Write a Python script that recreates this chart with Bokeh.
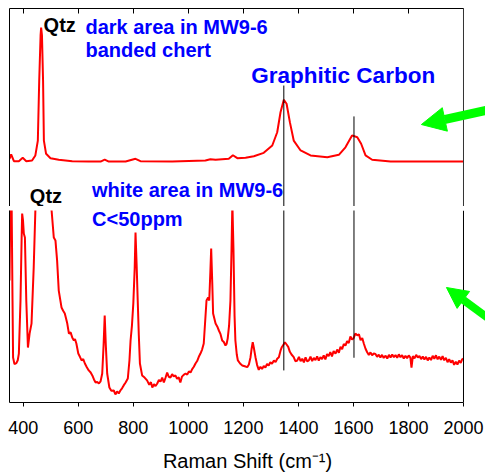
from bokeh.plotting import figure
from bokeh.models import Range1d, Label, Arrow, NormalHead, FixedTicker, Span
from bokeh.layouts import column
from bokeh.embed import file_html
from bokeh.resources import INLINE

# ---------------- data ----------------
# Upper spectrum: dark area in MW9-6 banded chert (intensity, arbitrary units)
shift_dark = [350, 356, 366, 384, 398, 411, 432, 444, 453, 458, 463, 465, 468, 472, 475,
              483, 499, 529, 578, 638, 681, 696, 711, 772, 808, 826, 941, 1062, 1080, 1099,
              1147, 1162, 1178, 1208, 1238, 1274, 1305, 1323, 1335, 1347, 1357, 1369, 1383,
              1408, 1444, 1505, 1547, 1571, 1595, 1614, 1628, 1644, 1668, 1735, 1856, 2000]
int_dark = [24.1, 26.3, 22.9, 22.9, 24.6, 22.9, 23.2, 25.8, 33.3, 63.6, 86.4, 90.4, 86.4, 63.6, 33.3,
            26.6, 24.4, 23.6, 22.9, 22.7, 22.7, 23.7, 22.7, 22.7, 24.1, 22.9, 22.7, 23.2, 23.9, 23.6,
            24.1, 25.9, 24.4, 24.6, 25.4, 27.1, 30.8, 37.5, 47.6, 53.9, 51.9, 42.6, 33.3,
            28.3, 25.8, 24.9, 26.1, 29.9, 35.9, 35.0, 31.7, 25.8, 23.6, 22.7, 22.7, 22.7]

# Lower spectrum: white area in MW9-6 (intensity, arbitrary units; peaks run off scale)
shift_white = [350, 352, 356, 358, 361, 363, 368, 375, 380, 384, 390, 394, 396, 399, 402, 406,
               411, 417, 423, 430, 438, 444, 464, 503, 511, 517, 523, 529, 539, 545, 551, 556,
               560, 566, 572, 578, 584, 588, 593, 600, 606, 612, 618, 624, 631, 638, 645, 651,
               657, 663, 669, 675, 681, 687, 692, 696, 700, 705, 713, 720, 729, 735, 741, 747,
               753, 759, 765, 772, 780, 786, 790, 795, 800, 805, 808, 812, 816, 820, 824, 832,
               841, 850, 858, 864, 869, 875, 881, 887, 893, 899, 905, 911, 917, 923, 929, 935,
               941, 947, 953, 959, 965, 971, 977, 983, 990, 996, 1002, 1008, 1014, 1020, 1026,
               1032, 1038, 1044, 1050, 1056, 1066, 1072, 1076, 1080, 1083, 1087, 1090, 1099,
               1105, 1111, 1117, 1123, 1129, 1135, 1139, 1143, 1148, 1153, 1157, 1160, 1164,
               1168, 1171, 1176, 1180, 1188, 1196, 1205, 1214, 1220, 1226, 1230, 1234, 1238,
               1244, 1250, 1256, 1262, 1268, 1274, 1280, 1286, 1292, 1298, 1304, 1311, 1317,
               1323, 1329, 1335, 1339, 1345, 1351, 1357, 1363, 1369, 1375, 1383, 1389, 1396,
               1402, 1408, 1414, 1420, 1426, 1432, 1438, 1444, 1450, 1456, 1462, 1468, 1474,
               1480, 1486, 1492, 1498, 1504, 1510, 1516, 1522, 1528, 1535, 1541, 1547, 1553,
               1559, 1565, 1571, 1577, 1583, 1589, 1595, 1601, 1607, 1614, 1620, 1626, 1632,
               1638, 1644, 1650, 1656, 1662, 1668, 1674, 1680, 1686, 1692, 1698, 1704, 1710,
               1717, 1723, 1729, 1735, 1741, 1747, 1753, 1759, 1765, 1771, 1777, 1783, 1789,
               1795, 1801, 1807, 1811, 1816, 1822, 1828, 1834, 1840, 1846, 1852, 1858, 1864,
               1870, 1876, 1882, 1888, 1894, 1900, 1906, 1912, 1918, 1924, 1930, 1936, 1942,
               1948, 1954, 1960, 1966, 1972, 1978, 1984, 1990, 1995, 2000]
int_white = [63.5, 89.6, 150, 100, 53, 23.4, 20.0, 20.5, 22.0, 25.5, 53.1, 85, 98.4, 95, 88.0, 85.9,
             53.1, 28.6, 35.9, 41.1, 70.3, 100, 320, 100, 85.9, 84.4, 74.0, 58.3, 49.5, 47.8, 46.4, 43.5,
             41.1, 35.9, 36.5, 33.9, 32.3, 33.0, 30.7, 25.5, 23.8, 21.9, 22.6, 20.3, 18.4, 16.7, 15.6, 14.1,
             12.0, 10.4, 10.7, 9.9, 11.0, 15.1, 30, 45.3, 30, 15.1, 7.8, 6.1, 6.25, 4.2, 5.8, 4.7,
             6.25, 7.4, 8.9, 10.4, 12.5, 22, 32.3, 40, 51.6, 70, 88.5, 72, 53.1, 35, 20.3, 14.1,
             13.0, 11.5, 9.2, 10.6, 7.8, 9.5, 8.6, 9.9, 11.8, 10.9, 13.0, 10.4, 12.9, 15.6, 13.4, 13.0,
             14.8, 13.6, 14.1, 12.3, 13.1, 10.4, 13.5, 14.4, 15.1, 14.5, 16.2, 15.6, 17.4, 18.6, 20.3,
             21.6, 23.8, 25.5, 27.6, 30.7, 53.1, 54.7, 53.1, 68, 80.2, 62, 46.4, 41.1,
             39.6, 37.5, 35.6, 32.3, 31.5, 29.7, 30.5, 33.3, 40, 53.1, 80, 104, 80,
             45, 32.3, 25, 21.9, 20.3, 19.3, 18.9, 18.4, 19.8, 23.6, 28, 31.4, 28.5,
             23.6, 19.5, 17.0, 18.6, 17.5, 19.0, 18.2, 20.1, 19.3, 21.0, 20.2, 21.9, 21.0,
             22.8, 23.6, 27.0, 28.6, 30.0, 31.4, 30.2, 29.0, 26.4, 25.0, 23.6, 21.5, 21.9,
             23.8, 21.5, 22.8, 20.9, 23.5, 21.4, 21.9, 23.9, 21.6, 23.2, 22.1, 24.0, 21.8,
             23.6, 22.6, 24.5, 22.4, 25.2, 24.1, 26.3, 24.0, 26.8, 25.4, 27.6, 25.9, 29.0,
             27.8, 30.5, 29.6, 32.0, 31.0, 34.4, 32.8, 33.6, 35.9, 35.0, 35.5, 32.4, 33.6,
             30.6, 28.0, 26.2, 24.8, 26.1, 24.6, 25.5, 25.3, 23.8, 24.9, 23.4, 24.8, 23.2,
             24.4, 22.9, 24.8, 23.5, 25.0, 23.6, 24.7, 23.3, 25.1, 23.6, 24.6, 22.9, 24.3,
             23.1, 24.5, 23.4, 18.2, 24.2, 23.0, 24.8, 23.4, 24.2, 22.6, 24.0, 22.4, 23.8,
             21.9, 23.4, 22.1, 24.3, 22.8, 24.6, 22.5, 23.9, 22.2, 24.1, 22.0, 23.3, 21.0,
             22.6, 20.8, 21.9, 19.6, 21.2, 19.8, 21.8, 20.6, 22.4, 22.8]

# Vertical markers for the graphitic carbon D and G bands
band_shift = [1347, 1602]
band_top_upper = [61.1, 45.5]      # where the marker starts in the upper panel
band_bottom_lower = [16.7, 23.3]   # where the marker ends in the lower panel

x_ticks = [400, 600, 800, 1000, 1200, 1400, 1600, 1800, 2000]
x_min, x_max = 350, 2000

RED = "#ff0000"
BLUE = "#0000ff"
GREEN = "#00ff00"
FONT = "Liberation Sans"

# the visible range goes a little past 2000 so the pointer arrows can reach the page edge
xr = Range1d(x_min, 2080)

# ---------------- upper panel ----------------
p1 = figure(width=485, height=206, x_range=xr, y_range=Range1d(0, 100),
            x_axis_location="above", output_backend="svg", toolbar_location=None,
            min_border_left=9, min_border_right=0, min_border_top=8, min_border_bottom=0)
p1.outline_line_color = None
p1.grid.visible = False
p1.xaxis.bounds = (x_min, x_max)
p1.xaxis.ticker = FixedTicker(ticks=x_ticks)
p1.xaxis.major_label_text_font_size = "0px"
p1.xaxis.major_label_standoff = 0
p1.xaxis.major_tick_in = 5
p1.xaxis.major_tick_out = 0
p1.xaxis.minor_tick_line_color = None
p1.xaxis.axis_line_color = "black"
p1.xaxis.major_tick_line_color = "black"
p1.yaxis.ticker = FixedTicker(ticks=[])
p1.yaxis.major_label_text_font_size = "0px"
p1.yaxis.axis_line_color = "black"
p1.add_layout(Span(location=x_max, dimension="height", line_color="#333333", line_width=1))

p1.line(shift_dark, int_dark, line_color=RED, line_width=2)
p1.segment(x0=band_shift, y0=band_top_upper, x1=band_shift, y1=[-10, -10],
           line_color="black", line_width=1)

for txt, x, y, size, col in [
    ("Qtz", 474, 91.9, "20px", "black"),
    ("dark area in MW9-6", 626, 90.9, "20px", BLUE),
    ("banded chert", 626, 78.8, "20px", BLUE),
    ("Graphitic Carbon", 1229, 66.3, "22.5px", BLUE),
    ("white area in MW9-6", 650, 8.3, "20px", BLUE),
    ("Qtz", 424, 5.2, "20px", "black"),
]:
    p1.add_layout(Label(x=x, y=y, text=txt, text_font=FONT, text_font_size=size,
                        text_font_style="bold", text_color=col, text_baseline="alphabetic"))

p1.add_layout(Arrow(x_start=2105, y_start=49.2, x_end=1847, y_end=41.4,
                    line_color=GREEN, line_width=9,
                    end=NormalHead(size=24, fill_color=GREEN, line_color=GREEN)))

# ---------------- lower panel ----------------
p2 = figure(width=485, height=269, x_range=xr, y_range=Range1d(0, 100),
            output_backend="svg", toolbar_location=None,
            min_border_left=9, min_border_right=0, min_border_top=4, min_border_bottom=73)
p2.outline_line_color = None
p2.grid.visible = False
p2.xaxis.bounds = (x_min, x_max)
p2.xaxis.ticker = FixedTicker(ticks=x_ticks)
p2.xaxis.major_tick_in = 0
p2.xaxis.major_tick_out = 4
p2.xaxis.minor_tick_line_color = None
p2.xaxis.axis_line_color = "black"
p2.xaxis.major_tick_line_color = "black"
p2.xaxis.major_label_text_font = FONT
p2.xaxis.major_label_text_font_size = "18px"
p2.xaxis.major_label_text_color = "black"
p2.xaxis.major_label_standoff = 14
p2.xaxis.axis_label = "Raman Shift (cm\u207b\u00b9)"
p2.xaxis.axis_label_text_font = FONT
p2.xaxis.axis_label_text_font_size = "20px"
p2.xaxis.axis_label_text_font_style = "normal"
p2.xaxis.axis_label_text_color = "black"
p2.xaxis.axis_label_standoff = 13
p2.yaxis.ticker = FixedTicker(ticks=[])
p2.yaxis.major_label_text_font_size = "0px"
p2.yaxis.axis_line_color = "black"
p2.add_layout(Span(location=x_max, dimension="height", line_color="black", line_width=1))

p2.line(shift_white, int_white, line_color=RED, line_width=2)
p2.segment(x0=band_shift, y0=[110, 110], x1=band_shift, y1=band_bottom_lower,
           line_color="black", line_width=1)

p2.add_layout(Label(x=650, y=95.6, text="C<50ppm", text_font=FONT, text_font_size="20px",
                    text_font_style="bold", text_color=BLUE, text_baseline="alphabetic"))

p2.add_layout(Arrow(x_start=2105, y_start=42.3, x_end=1938, y_end=59.9,
                    line_color=GREEN, line_width=8,
                    end=NormalHead(size=21, fill_color=GREEN, line_color=GREEN)))

layout = column(p1, p2, spacing=0)
open("out.html", "w").write(file_html(layout, INLINE))
